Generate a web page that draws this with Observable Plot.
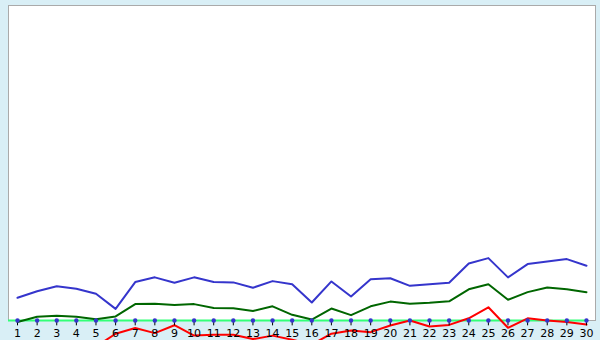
<!DOCTYPE html>
<html>
<head>
<meta charset="utf-8">
<script src="https://cdn.jsdelivr.net/npm/d3@7"></script>
<script src="https://cdn.jsdelivr.net/npm/@observablehq/plot@0.6"></script>
<style>
  html, body { margin: 0; padding: 0; background: #d9eff6; }
  #chart svg { display: block; background: transparent; }
</style>
</head>
<body>
<div id="chart"></div>
<script>
const days = d3.range(1, 31);
const blueValues = [7.2, 9.3, 10.9, 10.1, 8.5, 3.7, 12.2, 13.7, 12.0, 13.7, 12.2, 12.1, 10.4, 12.5, 11.5, 5.7, 12.4, 7.6, 13.1, 13.4, 11.0, 11.5, 12.0, 18.1, 19.8, 13.7, 17.9, 18.7, 19.5, 17.4];
const greenValues = [-0.5, 1.2, 1.5, 1.2, 0.4, 1.3, 5.2, 5.3, 4.9, 5.2, 4.0, 3.9, 3.0, 4.5, 1.8, 0.3, 3.8, 1.7, 4.5, 6.0, 5.3, 5.6, 6.1, 9.9, 11.5, 6.6, 9.0, 10.5, 9.9, 9.0];
const redValues = [-14.3, -12.7, -11.1, -10.2, -8.3, -4.2, -2.4, -4.0, -1.5, -4.8, -4.5, -4.5, -5.9, -4.8, -6.1, -7.6, -4.2, -3.2, -3.7, -1.6, 0, -1.9, -1.4, 0.7, 4.2, -2.3, 0.7, 0, -0.5, -1.3];
const tickLabels = days.map(String);

const series = [
  {name: "blue", values: blueValues, color: "#3535cc"},
  {name: "green", values: greenValues, color: "#006600"},
  {name: "red", values: redValues, color: "#ff0000"}
];

const lineMarks = series.map(s =>
  Plot.line(s.values.map((v, i) => ({day: days[i], value: v})),
    {x: "day", y: "value", stroke: s.color, strokeWidth: 2})
);

const chart = Plot.plot({
  width: 600,
  height: 340,
  marginLeft: 8,
  marginRight: 5,
  marginTop: 5,
  marginBottom: 20,
  style: {background: "transparent", fontFamily: "DejaVu Sans", fontSize: "11px", color: "#000"},
  x: {domain: [0.541, 30.46], label: null},
  y: {domain: [0, 100], axis: null, label: null},
  marks: [
    Plot.frame({fill: "white", stroke: "#aaaaaa"}),
    Plot.ruleY([0], {x1: 0.541, x2: 30, stroke: "#33ff77", strokeWidth: 2}),
    ...lineMarks,
    Plot.ruleX(days, {x: d => d, y1: 0, y2: -1.7, stroke: "#000", strokeWidth: 1}),
    Plot.dot(days, {x: d => d, y: 0, r: 2.2, fill: "#3535cc", stroke: null}),
    Plot.axisX({ticks: days, tickFormat: (d, i) => tickLabels[i], tickSize: 0, tickPadding: 9, fill: "#000", fontSize: 11, label: null}),
  ]
});
document.getElementById("chart").appendChild(chart);
</script>
</body>
</html>
